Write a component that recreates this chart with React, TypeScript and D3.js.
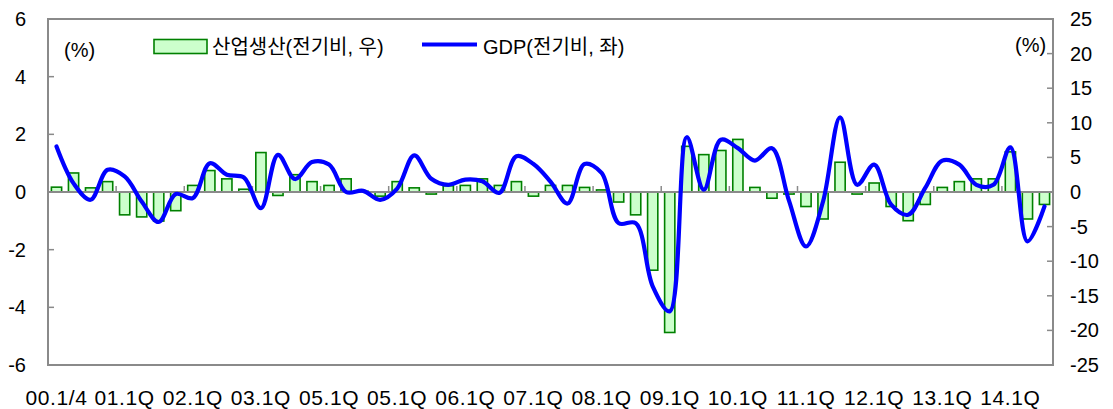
import React from 'react';
import * as d3 from 'd3';

const quarters = [
  '00.1Q','00.2Q','00.3Q','00.4Q','01.1Q','01.2Q','01.3Q','01.4Q',
  '02.1Q','02.2Q','02.3Q','02.4Q','03.1Q','03.2Q','03.3Q','03.4Q',
  '04.1Q','04.2Q','04.3Q','04.4Q','05.1Q','05.2Q','05.3Q','05.4Q',
  '06.1Q','06.2Q','06.3Q','06.4Q','07.1Q','07.2Q','07.3Q','07.4Q',
  '08.1Q','08.2Q','08.3Q','08.4Q','09.1Q','09.2Q','09.3Q','09.4Q',
  '10.1Q','10.2Q','10.3Q','10.4Q','11.1Q','11.2Q','11.3Q','11.4Q',
  '12.1Q','12.2Q','12.3Q','12.4Q','13.1Q','13.2Q','13.3Q','13.4Q',
  '14.1Q','14.2Q','14.3Q'
];

// 산업생산 (전기비, 우) — right axis
const production = [
  0.7, 2.75, 0.6, 1.5, -3.3, -3.6, -4.2, -2.7,
  0.95, 3.1, 1.9, 0.4, 5.7, -0.5, 2.5, 1.5,
  0.95, 1.9, 0.1, -0.6, 1.5, 0.6, -0.3, 0.9,
  0.95, 1.9, 0.95, 1.5, -0.6, 0.95, 0.95, 0.66,
  0.3, -1.45, -3.3, -11.3, -20.3, 6.6, 5.4, 6.0,
  7.6, 0.66, -0.9, -0.3, -2.1, -3.9, 4.3, -0.3,
  1.3, -2.1, -4.15, -1.8, 0.66, 1.5, 1.9, 1.9,
  5.8, -3.9, -1.8
];

// GDP (전기비, 좌) — left axis
const gdp = [
  1.58, 0.3, -0.27, 0.77, 0.54, -0.33, -1.04, -0.07,
  -0.21, 1.0, 0.6, 0.5, -0.56, 1.29, 0.45, 1.04,
  0.95, 0.0, 0.04, -0.27, 0.12, 1.27, 0.46, 0.25,
  0.43, 0.37, -0.03, 1.24, 0.97, 0.36, -0.4, 0.97,
  0.66, -1.08, -1.08, -3.27, -4.14, 1.9, 0.08, 1.81,
  1.52, 1.09, 1.52, -0.3, -1.89, -0.33, 2.59, 0.25,
  0.95, -0.44, -0.79, 0.14, 1.09, 0.95, 0.25, 0.25,
  1.55, -1.71, -0.5
];

const xTickLabels = [
  '00.1/4','01.1Q','02.1Q','03.1Q','05.1Q','05.1Q','06.1Q','07.1Q',
  '08.1Q','09.1Q','10.1Q','11.1Q','12.1Q','13.1Q','14.1Q'
];
const leftTicks = [6, 4, 2, 0, -2, -4, -6];
const rightTicks = [25, 20, 15, 10, 5, 0, -5, -10, -15, -20, -25];

const legendBarLabel = '산업생산(전기비, 우)';
const legendLineLabel = 'GDP(전기비, 좌)';

export default function App() {
  const W = 1113, H = 409;
  const L = 48, R = 1053, T = 19, B = 365;
  const font = '"Liberation Sans", Arial, "Noto Sans CJK KR", sans-serif';
  const gray = '#8a8a8a';

  const x = d3.scaleBand<string>().domain(quarters).range([L, R]).paddingInner(0.4).paddingOuter(0.2);
  const bw = x.bandwidth();
  const step = x.step();
  const cx = (q: string) => (x(q) as number) + bw / 2;
  const yL = d3.scaleLinear().domain([-6, 6]).range([B, T]);
  const yR = d3.scaleLinear().domain([-25, 25]).range([B, T]);
  const zero = yL(0);

  const line = d3.line<number>()
    .x((_, i) => cx(quarters[i]))
    .y(d => yL(d))
    .curve(d3.curveCatmullRom.alpha(0.5));

  const tickIdx = d3.range(4, quarters.length, 4);

  return (
    <svg width={W} height={H} style={{ position: 'absolute', left: 0, top: 0, background: '#fff' }} fontFamily={font}>
      {/* bars */}
      {production.map((v, i) => {
        const y0 = yR(0), y1 = yR(v);
        return (
          <rect key={i} x={x(quarters[i])} y={Math.min(y0, y1)} width={bw} height={Math.abs(y1 - y0)}
            fill="#ccffcc" stroke="#008000" strokeWidth={1.6} />
        );
      })}
      {/* zero line */}
      <line x1={L} x2={R} y1={zero} y2={zero} stroke={gray} strokeWidth={2} />
      {tickIdx.map(i => {
        const bx = cx(quarters[i]) - step / 2;
        return <line key={i} x1={bx} x2={bx} y1={zero} y2={zero - 6} stroke={gray} strokeWidth={1.5} />;
      })}
      {/* GDP line */}
      <path d={line(gdp) || ''} fill="none" stroke="#0000ff" strokeWidth={4.2} strokeLinejoin="round" strokeLinecap="round" />
      {/* frame */}
      <rect x={L} y={T} width={R - L} height={B - T} fill="none" stroke={gray} strokeWidth={2} />
      {/* left axis ticks & labels */}
      {leftTicks.map(t => (
        <g key={'l' + t}>
          <line x1={L} x2={L + 6} y1={yL(t)} y2={yL(t)} stroke={gray} strokeWidth={1.5} />
          <text x={26} y={yL(t)} dy="0.35em" textAnchor="end" fontSize={20} fill="#000">{t}</text>
        </g>
      ))}
      {/* right axis ticks & labels */}
      {rightTicks.map(t => (
        <g key={'r' + t}>
          <line x1={R - 6} x2={R} y1={yR(t)} y2={yR(t)} stroke={gray} strokeWidth={1.5} />
          <text x={1070} y={yR(t)} dy="0.35em" textAnchor="start" fontSize={20} fill="#000">{t}</text>
        </g>
      ))}
      {/* x labels */}
      {xTickLabels.map((lab, k) => (
        <text key={k} x={cx(quarters[k * 4])} y={405} textAnchor="middle" fontSize={21} letterSpacing={0.6} fill="#000">{lab}</text>
      ))}
      {/* unit labels */}
      <text x={64} y={57} fontSize={20} fill="#000">(%)</text>
      <text x={1015} y={52} fontSize={20} fill="#000">(%)</text>
      {/* legend */}
      <rect x={154} y={39.5} width={53} height={14} fill="#ccffcc" stroke="#008000" strokeWidth={1.6} />
      <text x={212} y={54} fontSize={20} fill="#000">{legendBarLabel}</text>
      <line x1={422} x2={477} y1={44.5} y2={44.5} stroke="#0000ff" strokeWidth={4} />
      <text x={483} y={54} fontSize={20} fill="#000">{legendLineLabel}</text>
    </svg>
  );
}
